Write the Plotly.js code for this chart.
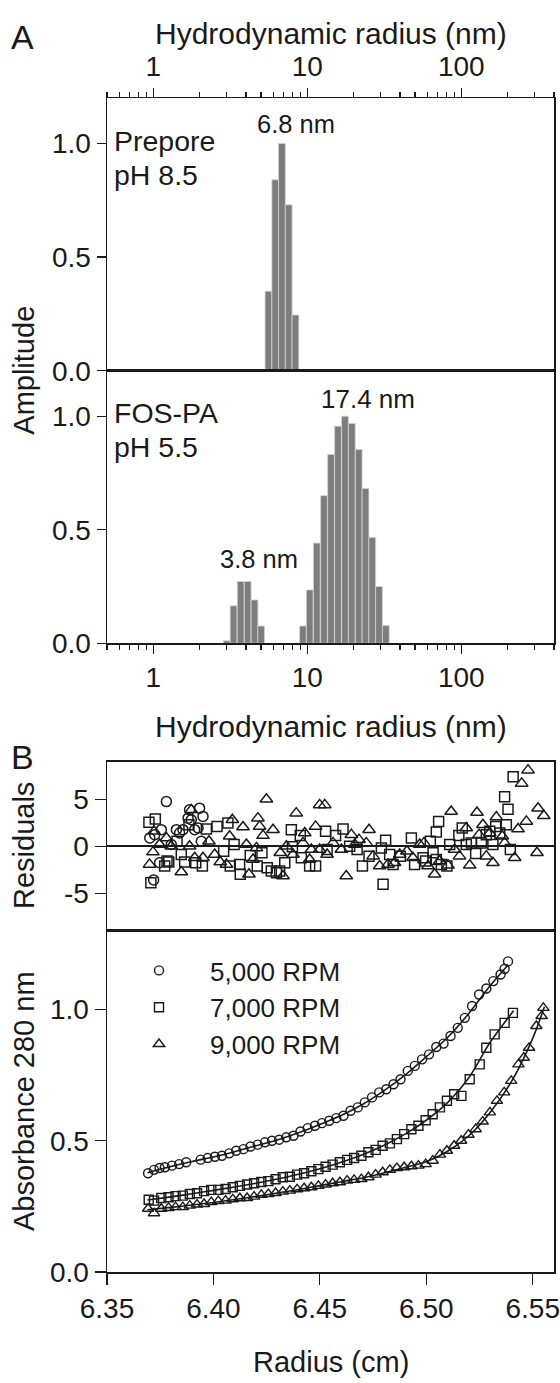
<!DOCTYPE html>
<html><head><meta charset="utf-8">
<script src="https://cdn.plot.ly/plotly-3.0.1.min.js"></script>
<style>html,body{margin:0;padding:0;background:#fff;}#chart{width:560px;height:1383px;}</style>
</head><body><div id="chart"></div>
<script>
// ---------- Panel A: DLS size distributions ----------
var preporeRadius = [5.59, 6.19, 6.84, 7.57, 8.37];
var preporeAmp    = [0.35, 0.84, 1.00, 0.73, 0.245];

var fospaRadius = [3.00, 3.32, 3.69, 4.10, 4.54, 5.01,
                   9.37, 10.37, 11.52, 12.83, 14.25, 15.82, 17.57, 19.45, 21.57, 23.88, 26.40, 29.22, 32.36];
var fospaAmp    = [0.011, 0.165, 0.272, 0.272, 0.191, 0.076,
                   0.076, 0.235, 0.441, 0.650, 0.831, 0.956, 1.000, 0.968, 0.853, 0.681, 0.466, 0.250, 0.078];

var xTickValsA  = [1, 10, 100];
var xTickTextA  = ['1', '10', '100'];
var yTickValsA  = [0, 0.5, 1.0];
var yTickTextA  = ['0.0', '0.5', '1.0'];

// ---------- Panel B: residuals ----------
var res5000R = [6.3701, 6.3719, 6.3724, 6.3747, 6.3755, 6.3779, 6.3802, 6.3826, 6.3841, 6.3857, 6.3881, 6.3888, 6.3896, 6.3912, 6.3928, 6.3935, 6.3943, 6.3951];
var res5000V = [0.88, -3.59, 1.23, -1.76, 1.76, 4.75, 0.18, 1.76, 1.41, 1.76, 2.99, 3.87, 2.82, 1.76, 1.94, 4.05, 0.53, 3.17];

var res7000R = [6.3697, 6.3706, 6.3727, 6.3771, 6.3782, 6.3790, 6.3829, 6.3849, 6.3865, 6.3885, 6.3917, 6.3948, 6.3967, 6.4017, 6.4048, 6.4068, 6.4079, 6.4097, 6.4123, 6.4126,
                6.4173, 6.4206, 6.4228, 6.4253, 6.4272, 6.4296, 6.4311, 6.4335, 6.4366, 6.4371, 6.4408, 6.4413, 6.4452, 6.4480, 6.4527, 6.4534, 6.4574, 6.4609, 6.4640, 6.4675,
                6.4700, 6.4731, 6.4789, 6.4797, 6.4809, 6.4828, 6.4844, 6.4878, 6.4930, 6.4945, 6.4985, 6.4997, 6.5019, 6.5032, 6.5047, 6.5047, 6.5058, 6.5071, 6.5097, 6.5110,
                6.5153, 6.5169, 6.5188, 6.5212, 6.5232, 6.5259, 6.5282, 6.5298, 6.5313, 6.5326, 6.5345, 6.5368, 6.5376, 6.5384, 6.5395, 6.5408];
var res7000V = [2.54, -3.90, 2.89, -2.11, -1.58, -1.69, 0.53, -0.88, -1.69, 2.29, -1.76, -2.11, 1.83, 2.11, -0.53, 2.46, -2.11, 0.18, -1.94, -2.99,
                -0.99, -2.11, -0.70, -2.29, -2.64, -2.82, -2.64, -1.76, 1.76, -0.07, 1.13, -1.23, -2.11, -2.11, 1.58, -0.35, 1.13, 1.83, 0.00, -0.35,
                -2.11, -1.06, -0.18, -4.05, 0.63, -0.88, -1.94, -1.06, 0.88, -1.94, -1.23, -1.58, 0.53, -0.70, 1.51, -1.41, 2.64, -1.94, -2.11, 0.18,
                1.13, 1.94, 0.18, 0.35, -0.77, 0.35, 1.23, 1.58, 0.18, 2.11, 1.41, 5.28, 2.29, 3.94, -0.35, 7.39];

var res9000R = [6.3700, 6.3716, 6.3721, 6.3747, 6.3779, 6.3802, 6.3849, 6.3888, 6.3896, 6.3912, 6.3951, 6.3979, 6.4006, 6.4032, 6.4061, 6.4076, 6.4089, 6.4139, 6.4155, 6.4167,
                6.4186, 6.4202, 6.4209, 6.4217, 6.4233, 6.4249, 6.4280, 6.4314, 6.4327, 6.4343, 6.4374, 6.4389, 6.4421, 6.4429, 6.4452, 6.4460, 6.4480, 6.4499, 6.4499, 6.4523,
                6.4534, 6.4562, 6.4601, 6.4624, 6.4648, 6.4664, 6.4684, 6.4718, 6.4731, 6.4750, 6.4781, 6.4820, 6.4851, 6.4875, 6.4909, 6.4937, 6.4969, 6.4989, 6.5008, 6.5039,
                6.5063, 6.5102, 6.5117, 6.5133, 6.5156, 6.5188, 6.5204, 6.5238, 6.5248, 6.5266, 6.5282, 6.5298, 6.5313, 6.5329, 6.5357, 6.5368, 6.5415, 6.5431, 6.5448, 6.5470,
                6.5478, 6.5520, 6.5525, 6.5552];
var res9000V = [-1.94, -0.63, 1.58, 0.18, 0.88, 0.00, -2.75, 0.00, 3.87, -1.23, -1.23, 0.53, -0.88, -1.69, -1.94, 1.06, 2.82, 2.04, 0.18, -2.99,
                -1.41, -0.18, 2.99, 2.11, 1.13, 5.00, 1.76, -0.70, -3.17, 0.00, -0.88, 3.52, 0.35, 1.41, -1.41, -0.35, 2.11, 4.40, -0.35, 4.40,
                -0.88, 0.35, -0.35, -3.17, 1.23, 0.18, 0.70, 0.35, 1.76, -1.06, -2.11, -1.94, -1.76, -0.88, -0.53, -1.23, 0.18, 0.35, -2.11, -2.99,
                -1.58, -2.04, 3.70, -0.35, -1.06, 1.94, -2.04, 3.59, 1.23, 2.29, -1.06, 1.41, -1.76, 3.10, 1.06, 0.35, -1.23, 1.83, 6.69, 2.64,
                8.10, -0.70, 4.05, 3.24];

// ---------- Panel B: absorbance profiles ----------
var abs5000R = [6.3693, 6.3721, 6.3747, 6.3772, 6.3805, 6.3839, 6.3872, 6.3940, 6.3973, 6.4007, 6.4040, 6.4074, 6.4107, 6.4141, 6.4174, 6.4208, 6.4242, 6.4275, 6.4309, 6.4342,
                6.4376, 6.4409, 6.4443, 6.4477, 6.4510, 6.4544, 6.4577, 6.4611, 6.4644, 6.4678, 6.4711, 6.4745, 6.4779, 6.4812, 6.4846, 6.4879, 6.4913, 6.4946, 6.4980, 6.5013,
                6.5047, 6.5081, 6.5114, 6.5148, 6.5181, 6.5215, 6.5248, 6.5282, 6.5315, 6.5349, 6.5368, 6.5384];
var abs5000V = [0.376, 0.389, 0.396, 0.399, 0.405, 0.411, 0.418, 0.428, 0.434, 0.439, 0.443, 0.452, 0.462, 0.468, 0.478, 0.485, 0.494, 0.500, 0.504, 0.513,
                0.519, 0.535, 0.548, 0.557, 0.567, 0.576, 0.586, 0.595, 0.614, 0.627, 0.646, 0.665, 0.684, 0.696, 0.715, 0.734, 0.766, 0.785, 0.810, 0.829,
                0.857, 0.870, 0.899, 0.930, 0.968, 1.013, 1.057, 1.080, 1.108, 1.133, 1.155, 1.183];

var abs7000R = [6.3696, 6.3721, 6.3755, 6.3789, 6.3822, 6.3856, 6.3889, 6.3923, 6.3956, 6.3990, 6.4023, 6.4057, 6.4091, 6.4124, 6.4158, 6.4191, 6.4225, 6.4258, 6.4292, 6.4326,
                6.4359, 6.4393, 6.4426, 6.4460, 6.4493, 6.4527, 6.4560, 6.4594, 6.4628, 6.4661, 6.4695, 6.4728, 6.4762, 6.4795, 6.4829, 6.4862, 6.4896, 6.4930, 6.4963, 6.4997,
                6.5030, 6.5064, 6.5097, 6.5131, 6.5165, 6.5204, 6.5251, 6.5282, 6.5321, 6.5368, 6.5407];
var abs7000V = [0.275, 0.272, 0.282, 0.285, 0.289, 0.291, 0.297, 0.300, 0.308, 0.313, 0.313, 0.316, 0.323, 0.328, 0.333, 0.338, 0.343, 0.346, 0.353, 0.361,
                0.363, 0.371, 0.376, 0.384, 0.392, 0.401, 0.409, 0.418, 0.427, 0.434, 0.443, 0.456, 0.465, 0.481, 0.490, 0.506, 0.525, 0.544, 0.557, 0.578,
                0.601, 0.627, 0.652, 0.677, 0.671, 0.734, 0.791, 0.854, 0.905, 0.949, 0.987];

var abs9000R = [6.3693, 6.3721, 6.3755, 6.3789, 6.3822, 6.3856, 6.3889, 6.3923, 6.3956, 6.3990, 6.4023, 6.4057, 6.4091, 6.4124, 6.4158, 6.4191, 6.4225, 6.4258, 6.4292, 6.4326,
                6.4359, 6.4393, 6.4426, 6.4460, 6.4493, 6.4527, 6.4560, 6.4594, 6.4628, 6.4661, 6.4695, 6.4728, 6.4762, 6.4795, 6.4829, 6.4862, 6.4896, 6.4930, 6.4963, 6.4997,
                6.5030, 6.5064, 6.5097, 6.5131, 6.5164, 6.5198, 6.5232, 6.5265, 6.5299, 6.5332, 6.5366, 6.5399, 6.5433, 6.5458, 6.5483, 6.5517, 6.5542, 6.5550];
var abs9000V = [0.241, 0.224, 0.241, 0.244, 0.247, 0.247, 0.253, 0.257, 0.259, 0.266, 0.270, 0.272, 0.277, 0.281, 0.282, 0.287, 0.294, 0.297, 0.301, 0.306,
                0.310, 0.315, 0.319, 0.323, 0.328, 0.333, 0.338, 0.342, 0.348, 0.351, 0.354, 0.361, 0.371, 0.380, 0.389, 0.396, 0.399, 0.403, 0.405, 0.411,
                0.424, 0.447, 0.462, 0.481, 0.500, 0.523, 0.544, 0.573, 0.608, 0.652, 0.684, 0.728, 0.791, 0.816, 0.854, 0.937, 0.975, 1.006];

// fitted curves
var fit5000R = [6.369, 6.38, 6.39, 6.40, 6.41, 6.42, 6.43, 6.44, 6.45, 6.46, 6.47, 6.48, 6.49, 6.50, 6.51, 6.52, 6.53, 6.5385];
var fit5000V = [0.378, 0.402, 0.421, 0.438, 0.458, 0.481, 0.503, 0.530, 0.562, 0.596, 0.638, 0.690, 0.750, 0.820, 0.893, 0.985, 1.090, 1.170];
var fit7000R = [6.369, 6.38, 6.39, 6.40, 6.41, 6.42, 6.43, 6.44, 6.45, 6.46, 6.47, 6.48, 6.49, 6.50, 6.51, 6.52, 6.53, 6.541];
var fit7000V = [0.274, 0.286, 0.298, 0.311, 0.324, 0.338, 0.354, 0.372, 0.393, 0.418, 0.447, 0.482, 0.525, 0.578, 0.645, 0.740, 0.875, 0.995];
var fit9000R = [6.369, 6.38, 6.39, 6.40, 6.41, 6.42, 6.43, 6.44, 6.45, 6.46, 6.47, 6.48, 6.49, 6.50, 6.51, 6.52, 6.53, 6.54, 6.55, 6.5555];
var fit9000V = [0.237, 0.246, 0.255, 0.265, 0.276, 0.288, 0.301, 0.314, 0.329, 0.344, 0.358, 0.377, 0.398, 0.420, 0.460, 0.519, 0.608, 0.725, 0.890, 1.010];

var seriesNames = ['5,000 RPM', '7,000 RPM', '9,000 RPM'];
var xTickValsB  = [6.35, 6.40, 6.45, 6.50, 6.55];
var xTickTextB  = ['6.35', '6.40', '6.45', '6.50', '6.55'];
var resTickVals = [-5, 0, 5];
var resTickText = ['-5', '0', '5'];

// ---------- build ----------
var FONT = 'Liberation Sans, Arial, Helvetica, sans-serif';
var INK = '#1a1a1a';
var binHalfDex = 0.022;   // half width of one DLS bin in decades

function barGeom(radii) {
  var xs = [], ws = [];
  radii.forEach(function (r) {
    var a = r * Math.pow(10, -binHalfDex), b = r * Math.pow(10, binHalfDex);
    xs.push((a + b) / 2); ws.push(b - a);
  });
  return {x: xs, w: ws};
}
var gP = barGeom(preporeRadius), gF = barGeom(fospaRadius);
var barStyle = {color: '#7d7d7d', line: {color: '#d4d4d4', width: 0.8}};

// minor tick positions for the log axes
var minorA = [];
[0.1, 1, 10, 100].forEach(function (d) { for (var k = 2; k <= 9; k++) { var v = d * k; if (v >= 0.5 && v <= 400) minorA.push(v); } });

var symbols = ['circle-open', 'square-open', 'triangle-up-open'];
var resR = [res5000R, res7000R, res9000R], resV = [res5000V, res7000V, res9000V];
var absR = [abs5000R, abs7000R, abs9000R], absV = [abs5000V, abs7000V, abs9000V];
var fitR = [fit5000R, fit7000R, fit9000R], fitV = [fit5000V, fit7000V, fit9000V];
var resSize = [10, 10, 11], absSize = [9, 9, 10];

var traces = [
  {type: 'bar', x: gP.x, y: preporeAmp, width: gP.w, marker: barStyle, xaxis: 'x', yaxis: 'y', showlegend: false, hoverinfo: 'skip'},
  {type: 'bar', x: gF.x, y: fospaAmp, width: gF.w, marker: barStyle, xaxis: 'x2', yaxis: 'y2', showlegend: false, hoverinfo: 'skip'}
];
for (var i = 0; i < 3; i++) {
  traces.push({type: 'scatter', mode: 'markers', x: resR[i], y: resV[i], xaxis: 'x3', yaxis: 'y3', showlegend: false,
    marker: {symbol: symbols[i], size: resSize[i], color: INK, line: {color: INK, width: 1.5}}});
}
for (var j = 0; j < 3; j++) {
  traces.push({type: 'scatter', mode: 'lines', x: fitR[j], y: fitV[j], xaxis: 'x4', yaxis: 'y4', showlegend: false,
    line: {color: INK, width: 1.6, shape: 'spline', smoothing: 0.8}});
}
for (var k = 0; k < 3; k++) {
  traces.push({type: 'scatter', mode: 'markers', name: seriesNames[k], x: absR[k], y: absV[k], xaxis: 'x4', yaxis: 'y4',
    marker: {symbol: symbols[k], size: absSize[k], color: INK, line: {color: INK, width: 1.4}}});
}

var tickFont = {family: FONT, size: 28, color: INK};
function logX(extra) {
  var o = {type: 'log', range: [Math.log10(0.5), Math.log10(400)], domain: [0, 1],
    tickmode: 'array', tickvals: xTickValsA, ticktext: xTickTextA, ticks: 'outside', ticklen: 9, tickwidth: 1.2, tickcolor: INK,
    minor: {tickmode: 'array', tickvals: minorA, ticks: 'outside', ticklen: 5, tickwidth: 1.2, tickcolor: INK},
    showline: true, linecolor: INK, linewidth: 1.5, mirror: true, showgrid: false, zeroline: false,
    tickfont: tickFont, fixedrange: true};
  for (var p in extra) o[p] = extra[p];
  return o;
}
function linY(extra) {
  var o = {ticks: 'outside', ticklen: 9, tickwidth: 1.2, tickcolor: INK, showline: true, linecolor: INK, linewidth: 1.5,
    mirror: true, showgrid: false, zeroline: false, tickfont: tickFont, fixedrange: true};
  for (var p in extra) o[p] = extra[p];
  return o;
}

var H = 1174, T = 98, W = 447, L = 107;
function px2x(px) { return (px - L) / W; }
function px2y(py) { return (T + H - py) / H; }

function ann(text, px, py, size, opts) {
  var a = {text: text, x: px2x(px), y: px2y(py), xref: 'paper', yref: 'paper', showarrow: false,
    xanchor: 'center', yanchor: 'middle', font: {family: FONT, size: size, color: INK}};
  for (var p in (opts || {})) a[p] = opts[p];
  return a;
}

var layout = {
  width: 560, height: 1383,
  margin: {l: L, r: 560 - L - W, t: T, b: 1383 - T - H, pad: 0},
  paper_bgcolor: '#fff', plot_bgcolor: '#fff',
  font: {family: FONT, color: INK},
  xaxis: logX({anchor: 'y', side: 'top'}),
  xaxis2: logX({anchor: 'y2', side: 'bottom'}),
  yaxis: linY({anchor: 'x', domain: [px2y(370.7), 1], range: [0, 1.2], tickmode: 'array', tickvals: yTickValsA, ticktext: yTickTextA}),
  yaxis2: linY({anchor: 'x2', domain: [px2y(643.3), px2y(370.7)], range: [0, 1.2], tickmode: 'array', tickvals: yTickValsA, ticktext: yTickTextA}),
  xaxis3: {anchor: 'y3', domain: [0, 1], range: [6.35, 6.56], showticklabels: false, ticks: '', showline: true, linecolor: INK, linewidth: 1.5,
    mirror: true, showgrid: false, zeroline: false, fixedrange: true},
  yaxis3: linY({anchor: 'x3', domain: [px2y(930.7), px2y(761.7)], range: [-9, 9], tickmode: 'array', tickvals: resTickVals, ticktext: resTickText,
    ticklen: 11, zeroline: true, zerolinecolor: INK, zerolinewidth: 2}),
  xaxis4: {anchor: 'y4', domain: [0, 1], range: [6.35, 6.56], tickmode: 'array', tickvals: xTickValsB, ticktext: xTickTextB,
    ticks: 'outside', ticklen: 11, tickwidth: 1.2, tickcolor: INK, showline: true, linecolor: INK, linewidth: 1.5, mirror: true,
    showgrid: false, zeroline: false, tickfont: tickFont, fixedrange: true},
  yaxis4: linY({anchor: 'x4', domain: [0, px2y(930.7)], range: [0, 1.3], tickmode: 'array', tickvals: yTickValsA, ticktext: yTickTextA, ticklen: 11}),
  showlegend: true,
  legend: {x: px2x(108), y: px2y(947), xanchor: 'left', yanchor: 'top', bgcolor: 'rgba(0,0,0,0)', borderwidth: 0,
    itemwidth: 92, font: {family: FONT, size: 26, color: INK}, tracegroupgap: 0},
  annotations: [
    ann('A', 22, 37, 34),
    ann('Hydrodynamic radius (nm)', 330.5, 33, 30),
    ann('Prepore', 112, 141, 28.5, {xanchor: 'left'}),
    ann('pH 8.5', 112, 174.5, 28.5, {xanchor: 'left'}),
    ann('6.8 nm', 296, 124, 25.5),
    ann('FOS-PA', 112, 413, 28.5, {xanchor: 'left'}),
    ann('pH 5.5', 112, 447, 28.5, {xanchor: 'left'}),
    ann('17.4 nm', 367.5, 399, 26),
    ann('3.8 nm', 259, 559, 25.5),
    ann('Amplitude', 24, 370.7, 29, {textangle: -90}),
    ann('Hydrodynamic radius (nm)', 330.5, 726, 30),
    ann('B', 22, 757, 34),
    ann('Residuals', 24, 846, 29, {textangle: -90}),
    ann('Absorbance 280 nm', 24, 1101, 29, {textangle: -90}),
    ann('Radius (cm)', 330.5, 1362, 29)
  ]
};

Plotly.newPlot('chart', traces, layout, {staticPlot: true, displayModeBar: false});
</script></body></html>
